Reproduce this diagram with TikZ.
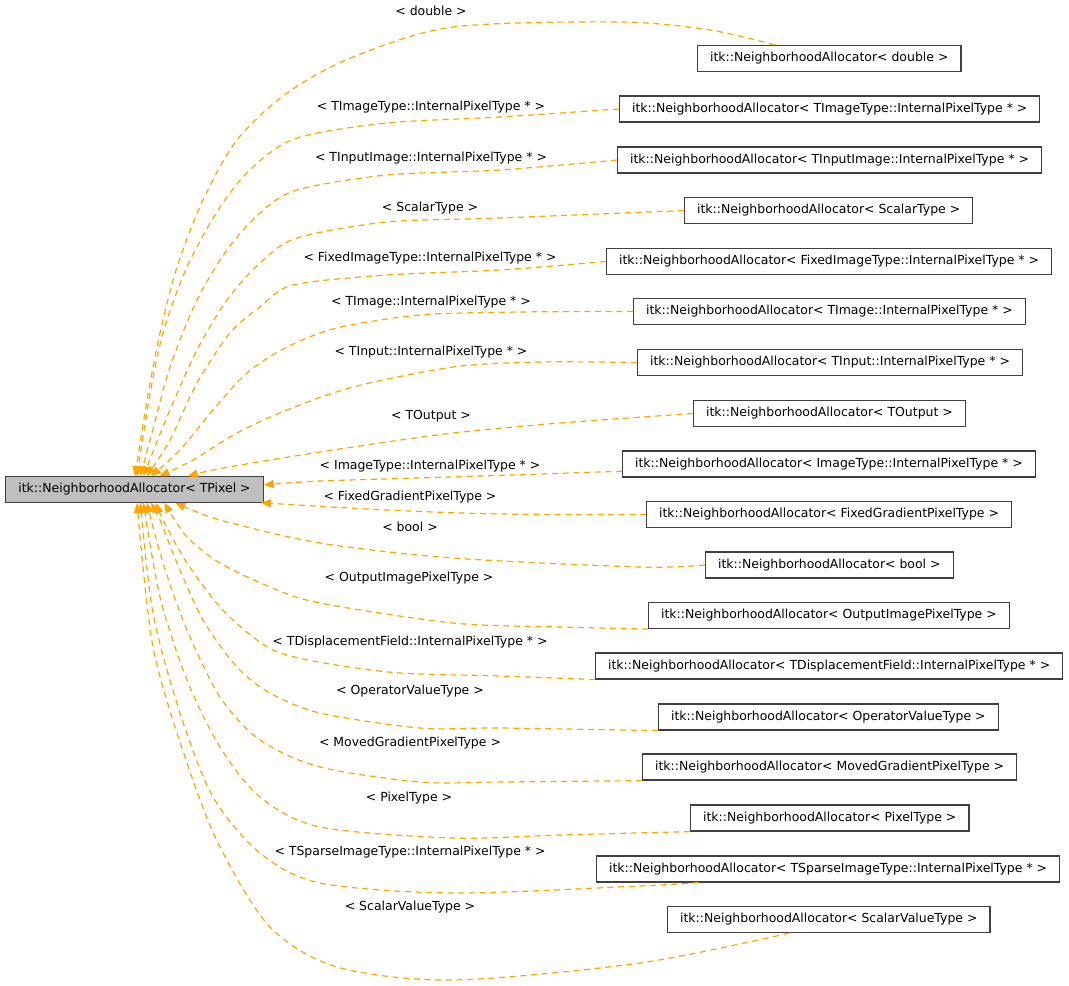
\documentclass[tikz,border=0pt]{standalone}
\usepackage{fontspec}
\setmainfont{DejaVu Sans}
\usetikzlibrary{arrows.meta}
\definecolor{edgeorange}{HTML}{FFA500}
\definecolor{basegray}{HTML}{BFBFBF}
\definecolor{boxline}{HTML}{404040}

\begin{document}
\begin{tikzpicture}[x=0.75pt, y=-0.75pt,
    font=\fontsize{9.35pt}{11pt}\selectfont,
    cls/.style={draw=boxline, line width=0.9pt, fill=white, inner xsep=9.4pt, inner ysep=0pt,
        text height=7pt, text depth=2pt, minimum height=19.5pt, anchor=west},
    basecls/.style={cls, fill=basegray, minimum height=19pt, anchor=center},
    lbl/.style={inner sep=0pt, text height=7pt, text depth=2pt},
    inh/.style={draw=edgeorange, line width=0.9pt, dash pattern=on 4.5pt off 3.5pt,
        -{Triangle[length=7.5pt, width=6pt]}}]
    \useasboundingbox (0,0) rectangle (1069,985);

    % Classe de base
    \node[basecls] (tpixel) at (134.5,489.5) {itk::NeighborhoodAllocator< TPixel >};

    % Instanciations
    \node[cls] (dbl) at (697,58.5) {itk::NeighborhoodAllocator< double >};
    \node[cls] (timgtype) at (619,109) {itk::NeighborhoodAllocator< TImageType::InternalPixelType * >};
    \node[cls] (tinimg) at (617,160) {itk::NeighborhoodAllocator< TInputImage::InternalPixelType * >};
    \node[cls] (scalar) at (684,210.5) {itk::NeighborhoodAllocator< ScalarType >};
    \node[cls] (fixedimg) at (606,261.5) {itk::NeighborhoodAllocator< FixedImageType::InternalPixelType * >};
    \node[cls] (timg) at (633,311.5) {itk::NeighborhoodAllocator< TImage::InternalPixelType * >};
    \node[cls] (tinput) at (637,362.5) {itk::NeighborhoodAllocator< TInput::InternalPixelType * >};
    \node[cls] (toutput) at (693,413.5) {itk::NeighborhoodAllocator< TOutput >};
    \node[cls] (imgtype) at (622,464) {itk::NeighborhoodAllocator< ImageType::InternalPixelType * >};
    \node[cls] (fixedgrad) at (646,514.5) {itk::NeighborhoodAllocator< FixedGradientPixelType >};
    \node[cls] (boolc) at (705,565) {itk::NeighborhoodAllocator< bool >};
    \node[cls] (outimg) at (648,615.5) {itk::NeighborhoodAllocator< OutputImagePixelType >};
    \node[cls] (tdisp) at (595,666) {itk::NeighborhoodAllocator< TDisplacementField::InternalPixelType * >};
    \node[cls] (opval) at (658,717) {itk::NeighborhoodAllocator< OperatorValueType >};
    \node[cls] (movedgrad) at (642,767) {itk::NeighborhoodAllocator< MovedGradientPixelType >};
    \node[cls] (pixel) at (690,818) {itk::NeighborhoodAllocator< PixelType >};
    \node[cls] (tsparse) at (596,869) {itk::NeighborhoodAllocator< TSparseImageType::InternalPixelType * >};
    \node[cls] (scalarval) at (667,919.5) {itk::NeighborhoodAllocator< ScalarValueType >};

    % Etiquettes
    \node[lbl] (dbl-l) at (431,12) {< double >};
    \node[lbl] (timgtype-l) at (431,107) {< TImageType::InternalPixelType * >};
    \node[lbl] (tinimg-l) at (431,158) {< TInputImage::InternalPixelType * >};
    \node[lbl] (scalar-l) at (430,208) {< ScalarType >};
    \node[lbl] (fixedimg-l) at (430,258) {< FixedImageType::InternalPixelType * >};
    \node[lbl] (timg-l) at (431,302) {< TImage::InternalPixelType * >};
    \node[lbl] (tinput-l) at (431,352) {< TInput::InternalPixelType * >};
    \node[lbl] (toutput-l) at (431,416) {< TOutput >};
    \node[lbl] (imgtype-l) at (430,466) {< ImageType::InternalPixelType * >};
    \node[lbl] (fixedgrad-l) at (410,497) {< FixedGradientPixelType >};
    \node[lbl] (boolc-l) at (410,528) {< bool >};
    \node[lbl] (outimg-l) at (409,578) {< OutputImagePixelType >};
    \node[lbl] (tdisp-l) at (410,642) {< TDisplacementField::InternalPixelType * >};
    \node[lbl] (opval-l) at (410,691) {< OperatorValueType >};
    \node[lbl] (movedgrad-l) at (410,743) {< MovedGradientPixelType >};
    \node[lbl] (pixel-l) at (409,798) {< PixelType >};
    \node[lbl] (tsparse-l) at (410,852) {< TSparseImageType::InternalPixelType * >};
    \node[lbl] (scalarval-l) at (410,907) {< ScalarValueType >};

    % Liens vers la classe de base
    \draw[inh] plot[smooth] coordinates {(dbl.166) (710,30) (620,22) (453,27) (353,57) (287,93) (237,140) (203,200) (177,267) (160,333) (147,400) (tpixel.88)};
    \draw[inh] plot[smooth] coordinates {(timgtype.west) (500,117) (387,123) (297,138) (253,167) (220,207) (187,267) (163,333) (149,400) (tpixel.79)};
    \draw[inh] plot[smooth] coordinates {(tinimg.west) (500,170) (387,175) (297,190) (260,213) (227,250) (197,300) (170,367) (152,433) (tpixel.66)};
    \draw[inh] plot[smooth] coordinates {(scalar.west) (500,218) (387,222) (297,238) (260,263) (227,300) (197,350) (167,417) (tpixel.56)};
    \draw[inh] plot[smooth] coordinates {(fixedimg.west) (500,270) (387,275) (293,285) (260,307) (230,333) (197,383) (170,440) (tpixel.47)};
    \draw[inh] plot[smooth] coordinates {(timg.west) (520,312) (420,315) (337,328) (287,347) (247,373) (213,410) (180,450) (tpixel.39)};
    \draw[inh] plot[smooth] coordinates {(tinput.west) (540,362) (453,367) (353,387) (287,410) (237,433) (193,460) (tpixel.28)};
    \draw[inh] plot[smooth] coordinates {(toutput.west) (560,423) (453,433) (353,447) (270,460) (213,470) (tpixel.14)};
    \draw[inh] plot[smooth] coordinates {(imgtype.182) (450,477) (320,481) (tpixel.2)};
    \draw[inh] plot[smooth] coordinates {(fixedgrad.west) (500,514) (387,510) (tpixel.354)};
    \draw[inh] plot[smooth] coordinates {(boolc.west) (640,567) (453,558) (320,543) (220,520) (tpixel.342)};
    \draw[inh] plot[smooth] coordinates {(outimg.south west) (560,627) (453,623) (320,603) (270,587) (220,563) (187,537) (tpixel.336)};
    \draw[inh] plot[smooth] coordinates {(tdisp.south west) (500,676) (400,673) (330,664) (280,653) (253,637) (220,607) (187,563) (163,520) (tpixel.329)};
    \draw[inh] plot[smooth] coordinates {(opval.south west) (500,728) (420,728) (320,713) (270,693) (237,667) (203,620) (177,563) (160,520) (tpixel.321)};
    \draw[inh] plot[smooth] coordinates {(movedgrad.south west) (500,782) (420,782) (320,767) (260,740) (220,697) (187,630) (163,563) (tpixel.313)};
    \draw[inh] plot[smooth] coordinates {(pixel.south west) (560,835) (453,838) (320,827) (260,797) (220,747) (187,680) (160,597) (tpixel.304)};
    \draw[inh] plot[smooth] coordinates {(tsparse.186) (640,886) (453,893) (320,883) (260,853) (213,797) (180,713) (153,613) (tpixel.294)};
    \draw[inh] plot[smooth] coordinates {(scalarval.199) (640,963) (453,980) (337,967) (270,927) (220,847) (187,763) (153,647) (tpixel.281)};
\end{tikzpicture}
\end{document}
